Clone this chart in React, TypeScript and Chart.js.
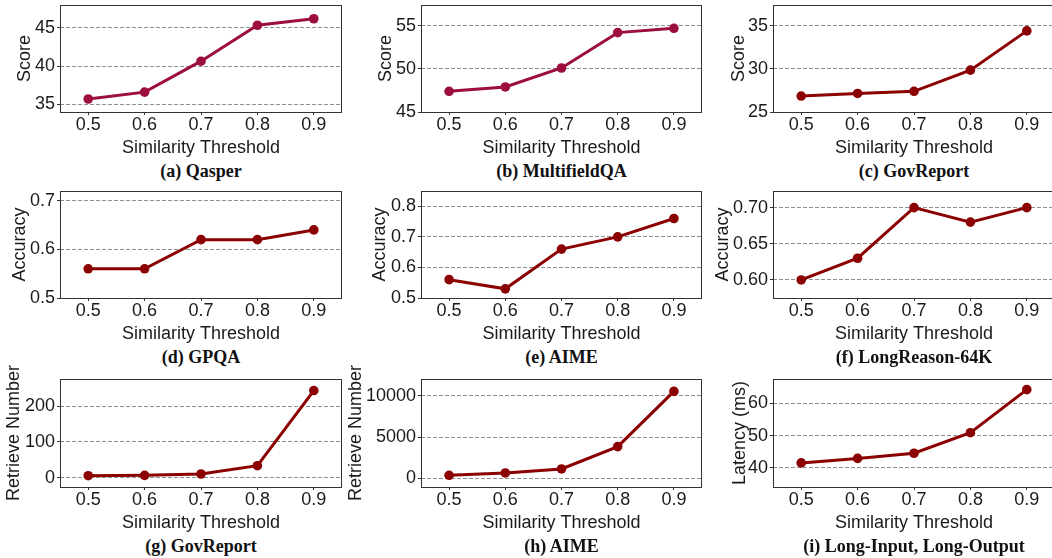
import React, { useEffect, useRef } from 'react';
import { Chart, registerables } from 'chart.js';

Chart.register(...registerables);

// ---------- data ----------
const thresholds = ['0.5', '0.6', '0.7', '0.8', '0.9'];

const qasperScores = [35.7, 36.6, 40.65, 45.35, 46.2];
const multifieldScores = [47.4, 47.9, 50.1, 54.2, 54.7];
const govReportScores = [26.85, 27.15, 27.4, 29.85, 34.4];
const gpqaAccuracy = [0.56, 0.56, 0.62, 0.62, 0.64];
const aimeAccuracy = [0.56, 0.53, 0.66, 0.7, 0.76];
const longReasonAccuracy = [0.6, 0.63, 0.7, 0.68, 0.7];
const govReportRetrieve = [5.6, 6.6, 10.4, 33.6, 243.7];
const aimeRetrieve = [364, 643, 1128, 3835, 10522];
const latencyMs = [41.5, 42.9, 44.5, 50.9, 64.3];

const qasperTicks = [35, 40, 45];
const multifieldTicks = [45, 50, 55];
const govReportScoreTicks = [25, 30, 35];
const gpqaTicks = [0.5, 0.6, 0.7];
const aimeAccTicks = [0.5, 0.6, 0.7, 0.8];
const longReasonTicks = [0.6, 0.65, 0.7];
const govRetrieveTicks = [0, 100, 200];
const aimeRetrieveTicks = [0, 5000, 10000];
const latencyTicks = [40, 50, 60];

const xAxisLabel = 'Similarity Threshold';

const CRIMSON = '#9c0d40';
const DARKRED = '#8b0000';

// ---------- layout ----------
const COL_L = [60, 421, 773];
const COL_R = [342, 702, 1055];
const ROW_T = [5, 191, 379];
const ROW_B = [112, 298, 487];
const X_AXIS_H = 48;
const X_TITLE_OFFSET = 36;
const CAPTION_OFFSET = 58.7;

type PanelDef = {
  caption: string;
  yLabel: string;
  data: number[];
  ticks: number[];
  min: number;
  max: number;
  decimals: number;
  color: string;
  col: number;
  row: number;
  titleX: number;
};

const panels: PanelDef[] = [
  { caption: '(a) Qasper', yLabel: 'Score', data: qasperScores, ticks: qasperTicks, min: 34, max: 48, decimals: 0, color: CRIMSON, col: 0, row: 0, titleX: 25 },
  { caption: '(b) MultifieldQA', yLabel: 'Score', data: multifieldScores, ticks: multifieldTicks, min: 45, max: 57.4, decimals: 0, color: CRIMSON, col: 1, row: 0, titleX: 386 },
  { caption: '(c) GovReport', yLabel: 'Score', data: govReportScores, ticks: govReportScoreTicks, min: 25, max: 37.4, decimals: 0, color: DARKRED, col: 2, row: 0, titleX: 739 },
  { caption: '(d) GPQA', yLabel: 'Accuracy', data: gpqaAccuracy, ticks: gpqaTicks, min: 0.5, max: 0.72, decimals: 1, color: DARKRED, col: 0, row: 1, titleX: 20 },
  { caption: '(e) AIME', yLabel: 'Accuracy', data: aimeAccuracy, ticks: aimeAccTicks, min: 0.5, max: 0.85, decimals: 1, color: DARKRED, col: 1, row: 1, titleX: 380 },
  { caption: '(f) LongReason-64K', yLabel: 'Accuracy', data: longReasonAccuracy, ticks: longReasonTicks, min: 0.575, max: 0.723, decimals: 2, color: DARKRED, col: 2, row: 1, titleX: 723.5 },
  { caption: '(g) GovReport', yLabel: 'Retrieve Number', data: govReportRetrieve, ticks: govRetrieveTicks, min: -26, max: 276, decimals: 0, color: DARKRED, col: 0, row: 2, titleX: 14 },
  { caption: '(h) AIME', yLabel: 'Retrieve Number', data: aimeRetrieve, ticks: aimeRetrieveTicks, min: -1056, max: 12027, decimals: 0, color: DARKRED, col: 1, row: 2, titleX: 356 },
  { caption: '(i) Long-Input, Long-Output', yLabel: 'Latency (ms)', data: latencyMs, ticks: latencyTicks, min: 34, max: 67.6, decimals: 0, color: DARKRED, col: 2, row: 2, titleX: 740 },
];

const SANS = "'Liberation Sans', Arial, Helvetica, sans-serif";
const SERIF = "'Liberation Serif', 'Times New Roman', serif";
const TEXT = '#1a1a1a';

const framePlugin = {
  id: 'frame',
  afterDraw(chart: any) {
    const { ctx, chartArea } = chart;
    const l = Math.floor(chartArea.left) + 0.5;
    const t = Math.floor(chartArea.top) + 0.5;
    const r = Math.floor(chartArea.right) - 0.5;
    const b = Math.floor(chartArea.bottom) + 0.5;
    ctx.save();
    ctx.strokeStyle = '#333333';
    ctx.lineWidth = 1;
    ctx.setLineDash([]);
    ctx.strokeRect(l, t, r - l, b - t);
    ctx.restore();
  },
};

function Panel({ p }: { p: PanelDef }) {
  const ref = useRef<HTMLCanvasElement | null>(null);
  const L = COL_L[p.col];
  const R = COL_R[p.col];
  const T = ROW_T[p.row];
  const B = ROW_B[p.row];
  const cl = Math.floor(p.titleX - 14);
  const yW = L - cl;
  const yTitlePad = p.titleX - cl - 10.8;
  const padTop = 20;
  const ct = T - padTop;
  const padRight = 20;
  const cw = R + padRight - cl;
  const ch = B + X_AXIS_H - ct;
  const xTitlePad = X_AXIS_H - 10.8 - X_TITLE_OFFSET;

  useEffect(() => {
    if (!ref.current) return;
    const chart = new Chart(ref.current, {
      type: 'line',
      data: {
        labels: thresholds,
        datasets: [
          {
            data: p.data,
            borderColor: p.color,
            backgroundColor: p.color,
            pointBackgroundColor: p.color,
            pointBorderColor: p.color,
            borderWidth: 3,
            pointRadius: 4.8,
            pointBorderWidth: 0,
            tension: 0,
            clip: false as any,
          },
        ],
      },
      options: {
        animation: false,
        responsive: false,
        devicePixelRatio: 1,
        layout: { padding: { left: 0, top: padTop, right: padRight, bottom: 0 } },
        plugins: { legend: { display: false }, tooltip: { enabled: false }, title: { display: false } },
        scales: {
          x: {
            type: 'category',
            offset: true,
            grid: { display: true, drawOnChartArea: false, drawTicks: true, tickLength: 3, offset: false, tickColor: '#333', tickWidth: 1 },
            border: { display: false },
            ticks: { color: TEXT, font: { family: SANS, size: 18 }, padding: -1, maxRotation: 0, autoSkip: false },
            title: { display: true, text: xAxisLabel, color: TEXT, font: { family: SANS, size: 18 }, padding: { top: 0, bottom: xTitlePad } },
            afterFit: (s: any) => { s.height = X_AXIS_H; },
          },
          y: {
            type: 'linear',
            min: p.min,
            max: p.max,
            afterBuildTicks: (s: any) => { s.ticks = p.ticks.map((v) => ({ value: v })); },
            grid: { color: '#8f8f8f', lineWidth: 1, drawTicks: true, tickLength: 3, tickColor: '#333', tickWidth: 1, tickBorderDash: [] },
            border: { display: false, dash: [4, 2] },
            ticks: { color: TEXT, font: { family: SANS, size: 18 }, padding: 2, callback: (v: any) => Number(v).toFixed(p.decimals) },
            title: { display: true, text: p.yLabel, color: TEXT, font: { family: SANS, size: 18 }, padding: { top: yTitlePad, bottom: 0 } },
            afterFit: (s: any) => { s.width = yW; },
          },
        },
      } as any,
      plugins: [framePlugin],
    });
    return () => chart.destroy();
  }, []);

  return (
    <>
      <canvas
        ref={ref}
        width={cw}
        height={ch}
        style={{ position: 'absolute', left: cl, top: ct, width: cw, height: ch }}
      />
      <div
        style={{
          position: 'absolute',
          left: (L + R) / 2 - 200,
          width: 400,
          top: B + CAPTION_OFFSET - 9.1,
          textAlign: 'center',
          fontFamily: SERIF,
          fontWeight: 'bold',
          fontSize: 18,
          lineHeight: '18px',
          color: '#111',
          whiteSpace: 'nowrap',
        }}
      >
        {p.caption}
      </div>
    </>
  );
}

export default function App() {
  return (
    <div
      style={{
        position: 'fixed',
        left: 0,
        top: 0,
        width: 1052,
        height: 558,
        overflow: 'hidden',
        background: '#ffffff',
      }}
    >
      {panels.map((p, i) => (
        <Panel key={i} p={p} />
      ))}
    </div>
  );
}
